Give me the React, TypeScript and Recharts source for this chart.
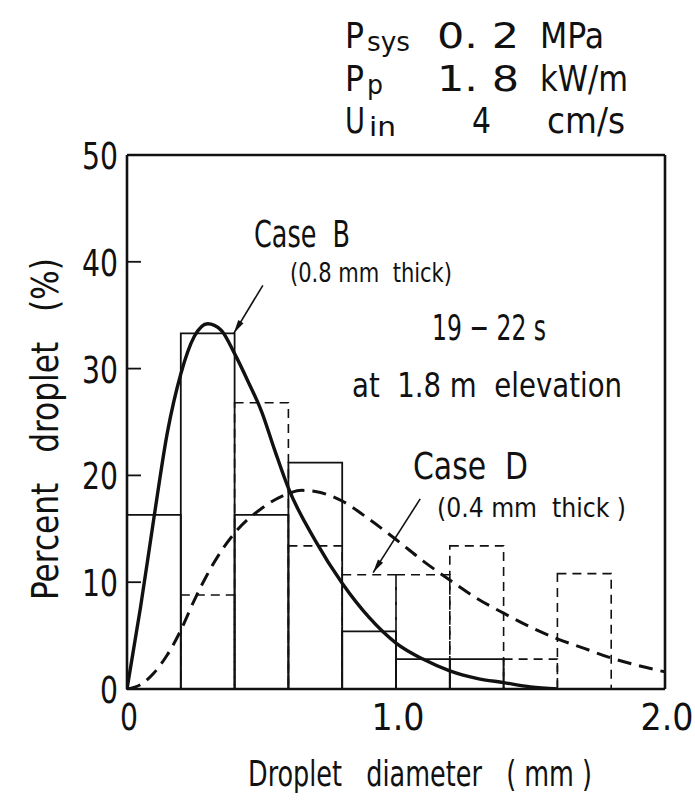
import React from 'react';
import {
  ComposedChart,
  Line,
  XAxis,
  YAxis,
  ReferenceArea,
  ReferenceLine,
} from 'recharts';

// histogram bins (mm), 0.2 mm wide
const binStarts = [0, 0.2, 0.4, 0.6, 0.8, 1.0, 1.2, 1.4, 1.6, 1.8];
const caseBBins = [16.3, 33.3, 16.3, 21.2, 5.4, 2.8, 2.8, 0, 0, 0];
const caseDBins = [0, 8.8, 26.8, 13.4, 10.7, 10.7, 13.4, 2.8, 10.8, 0];

// fitted distributions
const caseBDiam = [0, 0.05, 0.1, 0.15, 0.2, 0.25, 0.3, 0.35, 0.4, 0.45, 0.5, 0.55, 0.6, 0.7, 0.8, 0.9, 1.0, 1.1, 1.2, 1.3, 1.4, 1.5, 1.6];
const caseBCurve = [0, 7.6, 16, 24, 29.5, 33, 34.2, 33.6, 31.4, 28.8, 26, 22.3, 18.8, 13.9, 9.9, 6.7, 4.3, 2.8, 1.7, 1.0, 0.6, 0.2, 0];
const caseDDiam = [0, 0.05, 0.1, 0.15, 0.2, 0.25, 0.3, 0.35, 0.4, 0.5, 0.6, 0.65, 0.7, 0.8, 0.9, 1.0, 1.1, 1.2, 1.3, 1.4, 1.5, 1.6, 1.7, 1.8, 1.9, 2.0];
const caseDCurve = [0, 0.4, 1.5, 3.2, 5.5, 8.3, 10.8, 12.9, 14.6, 16.9, 18.3, 18.6, 18.5, 17.6, 15.9, 14.0, 12.0, 10.2, 8.5, 7.1, 5.8, 4.7, 3.8, 2.9, 2.2, 1.6];

const yTicks = [0, 10, 20, 30, 40, 50];
const rightTicks = [10, 20, 30, 40];
const xTicks = [0, 1, 2];
const xTickLabels = ['0', '1.0', '2.0'];

// arrow tails and tips, in data units
const arrowB = [{ x: 0.505, y: 37.8 }, { x: 0.397, y: 33.3 }];
const arrowD = [{ x: 1.09, y: 17.8 }, { x: 0.915, y: 10.9 }];

const curveB = caseBDiam.map((x, i) => ({ x, v: caseBCurve[i] }));
const curveD = caseDDiam.map((x, i) => ({ x, v: caseDCurve[i] }));

const FONT = "'Liberation Sans Narrow', 'DejaVu Sans Condensed', 'Roboto Condensed', 'DejaVu Sans', sans-serif";
const INK = '#111';

const LeftTick = ({ x, y, payload }: any) => {
  const s = String(payload.value);
  return (
    <g>
      <line x1={x} y1={y} x2={x + 14} y2={y} stroke={INK} strokeWidth={1.8} />
      <text
        x={x - 9}
        y={y + 14}
        textAnchor="end"
        fontSize={38}
        fontFamily={FONT}
        fill={INK}
        textLength={s.length * 18}
        lengthAdjust="spacingAndGlyphs"
      >
        {s}
      </text>
    </g>
  );
};

const RightTick = ({ x, y }: any) => (
  <line x1={x} y1={y} x2={x - 14} y2={y} stroke={INK} strokeWidth={1.8} />
);

const BottomTick = ({ x, y, payload }: any) => {
  const s = xTickLabels[xTicks.indexOf(payload.value)];
  return (
    <text
      x={x + 2}
      y={y + 41}
      textAnchor="middle"
      fontSize={38}
      fontFamily={FONT}
      fill={INK}
      textLength={s.length > 1 ? 53 : 18}
      lengthAdjust="spacingAndGlyphs"
    >
      {s}
    </text>
  );
};

const Arrow = (props: any) => {
  const { x1, y1, x2, y2 } = props;
  const a = Math.atan2(y2 - y1, x2 - x1);
  const len = 14;
  const w = 0.22;
  const p1 = `${x2 - len * Math.cos(a - w)},${y2 - len * Math.sin(a - w)}`;
  const p2 = `${x2 - len * Math.cos(a + w)},${y2 - len * Math.sin(a + w)}`;
  return (
    <g>
      <line x1={x1} y1={y1} x2={x2} y2={y2} stroke={INK} strokeWidth={1.6} />
      <polygon points={`${x2},${y2} ${p1} ${p2}`} fill={INK} />
    </g>
  );
};

const T = ({ x, y, size, w, children, anchor }: any) => (
  <text
    x={x}
    y={y}
    fontSize={size}
    fontFamily={FONT}
    fill={INK}
    textAnchor={anchor || 'start'}
    textLength={w}
    lengthAdjust={w ? 'spacingAndGlyphs' : undefined}
    style={{ whiteSpace: 'pre' }}
  >
    {children}
  </text>
);

export default function App() {
  return (
    <div style={{ position: 'absolute', left: 0, top: 0, width: 695, height: 802, background: '#fff' }}>
      <ComposedChart
        width={695}
        height={802}
        margin={{ top: 155, right: 20, bottom: 63, left: 67 }}
      >
        <XAxis
          xAxisId="num"
          type="number"
          dataKey="x"
          domain={[0, 2]}
          ticks={xTicks}
          allowDataOverflow
          height={50}
          tickSize={0}
          tickMargin={0}
          tick={<BottomTick />}
          axisLine={{ stroke: INK, strokeWidth: 2.6 }}
        />
        <YAxis
          yAxisId="left"
          type="number"
          domain={[0, 50]}
          ticks={yTicks}
          allowDataOverflow
          width={60}
          tickSize={0}
          tickMargin={0}
          tick={<LeftTick />}
          axisLine={{ stroke: INK, strokeWidth: 2.6 }}
        />
        <YAxis
          yAxisId="right"
          orientation="right"
          type="number"
          domain={[0, 50]}
          ticks={rightTicks}
          width={10}
          tickSize={0}
          tickMargin={0}
          tick={<RightTick />}
          axisLine={{ stroke: INK, strokeWidth: 2.6 }}
        />
        <ReferenceLine xAxisId="num" yAxisId="left" y={50} stroke={INK} strokeWidth={2.6} />

        {binStarts.map((b, i) =>
          caseDBins[i] > 0 ? (
            <ReferenceArea
              key={`d${i}`}
              xAxisId="num"
              yAxisId="left"
              x1={b}
              x2={b + 0.2}
              y1={0}
              y2={caseDBins[i]}
              fill="none"
              stroke={INK}
              strokeWidth={1.6}
              strokeDasharray="9 6"
            />
          ) : null
        )}
        {binStarts.map((b, i) =>
          caseBBins[i] > 0 ? (
            <ReferenceArea
              key={`b${i}`}
              xAxisId="num"
              yAxisId="left"
              x1={b}
              x2={b + 0.2}
              y1={0}
              y2={caseBBins[i]}
              fill="none"
              stroke={INK}
              strokeWidth={1.8}
            />
          ) : null
        )}

        <Line
          xAxisId="num"
          yAxisId="left"
          data={curveB}
          dataKey="v"
          type="monotone"
          stroke={INK}
          strokeWidth={3.4}
          dot={false}
          isAnimationActive={false}
        />
        <Line
          xAxisId="num"
          yAxisId="left"
          data={curveD}
          dataKey="v"
          type="monotone"
          stroke={INK}
          strokeWidth={3}
          strokeDasharray="14 8"
          dot={false}
          isAnimationActive={false}
        />

        <ReferenceLine xAxisId="num" yAxisId="left" segment={arrowB} shape={<Arrow />} ifOverflow="visible" />
        <ReferenceLine xAxisId="num" yAxisId="left" segment={arrowD} shape={<Arrow />} ifOverflow="visible" />
      </ComposedChart>

      <svg
        width={695}
        height={802}
        style={{ position: 'absolute', left: 0, top: 0, pointerEvents: 'none' }}
      >
        {/* run conditions */}
        <T x={345} y={48} size={35} w={19}>P</T>
        <T x={367} y={51} size={27} w={43}>sys</T>
        <T x={437} y={48} size={35} w={82}>0. 2</T>
        <T x={540} y={48} size={35} w={64}>MPa</T>
        <T x={345} y={91} size={35} w={19}>P</T>
        <T x={367} y={94} size={27} w={16}>p</T>
        <T x={437} y={91} size={35} w={82}>1. 8</T>
        <T x={540} y={91} size={35} w={88}>kW/m</T>
        <T x={345} y={133} size={35} w={20}>U</T>
        <T x={369} y={136} size={27} w={27}>in</T>
        <T x={472} y={133} size={35} w={19}>4</T>
        <T x={547} y={133} size={35} w={78}>cm/s</T>

        {/* annotations */}
        <T x={254} y={247} size={38} w={96}>Case  B</T>
        <T x={290} y={282} size={26} w={162}>(0.8 mm  thick)</T>
        <T x={432} y={340} size={36} w={114}>19 − 22 s</T>
        <T x={352} y={397} size={34} w={270}>at  1.8 m  elevation</T>
        <T x={413} y={479} size={38} w={115}>Case  D</T>
        <T x={437} y={517} size={26} w={189}>(0.4 mm  thick )</T>

        {/* axis titles */}
        <T x={248} y={786} size={35} w={344}>Droplet   diameter   ( mm )</T>
        <g transform="translate(58, 600) rotate(-90)">
          <T x={0} y={0} size={37} w={342}>Percent   droplet   (%)</T>
        </g>
      </svg>
    </div>
  );
}
